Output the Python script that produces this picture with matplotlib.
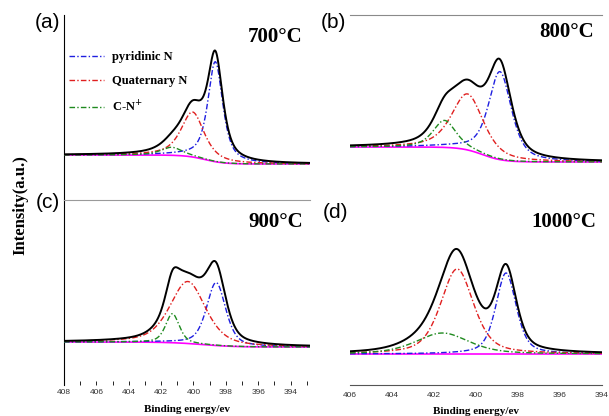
import numpy as np
import matplotlib
matplotlib.use('Agg')
import matplotlib.pyplot as plt
from matplotlib.lines import Line2D
from matplotlib.ticker import MultipleLocator

# fitted N1s components: centre (eV), height, FWHM (eV), Lorentz share
names = ['pyridinic N', 'Quaternary N', 'C-N$^{+}$']
colors = ['#1f1fe0', '#e01f1f', '#1f8a1f']

temps = ['700\u00b0C', '800\u00b0C', '900\u00b0C', '1000\u00b0C']
letters = ['(a)', '(b)', '(c)', '(d)']

centers = [[398.65, 400.05, 401.35],
           [398.86, 400.40, 401.50],
           [398.60, 400.35, 401.30],
           [398.57, 400.90, 401.60]]
heights = [[100, 45, 8],
           [88, 56, 27],
           [63, 62, 29],
           [81, 85, 21]]
fwhms = [[1.1, 1.7, 1.6],
         [1.3, 1.8, 1.3],
         [1.4, 2.6, 1.0],
         [1.15, 1.85, 3.0]]
lor = [0.7, 0.6, 0.5, 0.5]

# background step: level at high BE, level at low BE, step centre, step width
bg_high = [45, 53, 43, 31]
bg_low = [36, 38, 38, 31]
bg_mid = [399.3, 399.7, 399.5, 399.5]
bg_w = [0.6, 0.5, 1.0, 1.0]

xranges = [(408, 392.8), (406, 394), (408, 392.8), (406, 394)]


def peak(x, c, h, w, eta):
    r = (x - c) / (w / 2.0)
    return h * (eta / (1 + r ** 2) + (1 - eta) * np.exp(-np.log(2) * r ** 2))


W, H = 609, 416
fig = plt.figure(figsize=(W / 100, H / 100), dpi=100)


def box(l, t, r, b):
    return [l / W, 1 - b / H, (r - l) / W, (b - t) / H]


axes = [fig.add_axes(box(64, 15, 310, 200)),
        fig.add_axes(box(350, 15, 602, 200)),
        fig.add_axes(box(64, 200, 310, 385)),
        fig.add_axes(box(350, 200, 602, 385))]

serif = ['Liberation Serif', 'DejaVu Serif']
dash = (0, (4, 1.6, 1, 1.6))

for i, ax in enumerate(axes):
    x0, x1 = xranges[i]
    x = np.linspace(x0, x1, 900)
    bg = bg_low[i] + (bg_high[i] - bg_low[i]) / (1 + np.exp(-(x - bg_mid[i]) / bg_w[i]))
    total = bg.copy()
    ax.plot(x, bg, color='#ff00ff', lw=1.2, zorder=2)
    for k in range(3):
        p = peak(x, centers[i][k], heights[i][k], fwhms[i][k], lor[i])
        total += p
        ax.plot(x, bg + p, color=colors[k], lw=1.0, ls=dash, zorder=3)
    ax.plot(x, total, color='black', lw=1.4, zorder=4)
    ax.set_xlim(x0, x1)
    ax.set_ylim(0, 185)
    ax.set_yticks([])
    for s in ax.spines.values():
        s.set_visible(False)
    ax.patch.set_alpha(0)
    ax.text(0.86 if i != 3 else 0.85, 0.88 if i != 1 else 0.91, temps[i], transform=ax.transAxes,
            ha='center', va='center', fontsize=15, fontweight='bold', family=serif)

# spines like the original montage
axes[0].spines['left'].set_visible(True)
axes[2].spines['left'].set_visible(True)
axes[1].spines['top'].set_visible(True)
axes[1].spines['top'].set_color('#8a8a8a')
axes[2].spines['top'].set_visible(True)
axes[2].spines['top'].set_color('#9a9a9a')
axes[3].spines['bottom'].set_visible(True)
axes[3].spines['bottom'].set_color('#555555')

for ax in (axes[0], axes[1]):
    ax.set_xticks([])

for i in (2, 3):
    ax = axes[i]
    ticks = np.arange(394, 409, 2) if i == 2 else np.arange(394, 407, 2)
    ax.set_xticks(ticks)
    ax.set_xticklabels([str(t) for t in ticks], fontsize=6, color='#333333', family='Liberation Sans')
    ax.set_xlabel('Binding energy/ev', fontsize=8, fontweight='bold', family=serif, labelpad=6)
axes[2].xaxis.set_minor_locator(MultipleLocator(1))
axes[2].tick_params(axis='x', which='both', direction='in', length=3, width=0.6, pad=3)
axes[3].tick_params(axis='x', length=0, pad=5)

handles = [Line2D([], [], color=colors[k], lw=1.0, ls=dash) for k in range(3)]
leg = axes[0].legend(handles, names, loc='upper left', bbox_to_anchor=(0.0, 0.83),
                     frameon=False, handlelength=2.8, handletextpad=0.6,
                     labelspacing=0.95, borderaxespad=0,
                     prop={'family': serif, 'weight': 'bold', 'size': 9})

for j, (px, py) in enumerate([(47, 22), (333, 22), (48, 203), (335, 212)]):
    fig.text(px / W, 1 - py / H, letters[j], ha='center', va='center', fontsize=15,
             family='Liberation Sans')

fig.text(20 / W, 1 - 205 / H, 'Intensity(a.u.)', rotation=90, ha='center', va='center',
         fontsize=12, fontweight='bold', family=serif)

fig.savefig('out.png', dpi=100)
